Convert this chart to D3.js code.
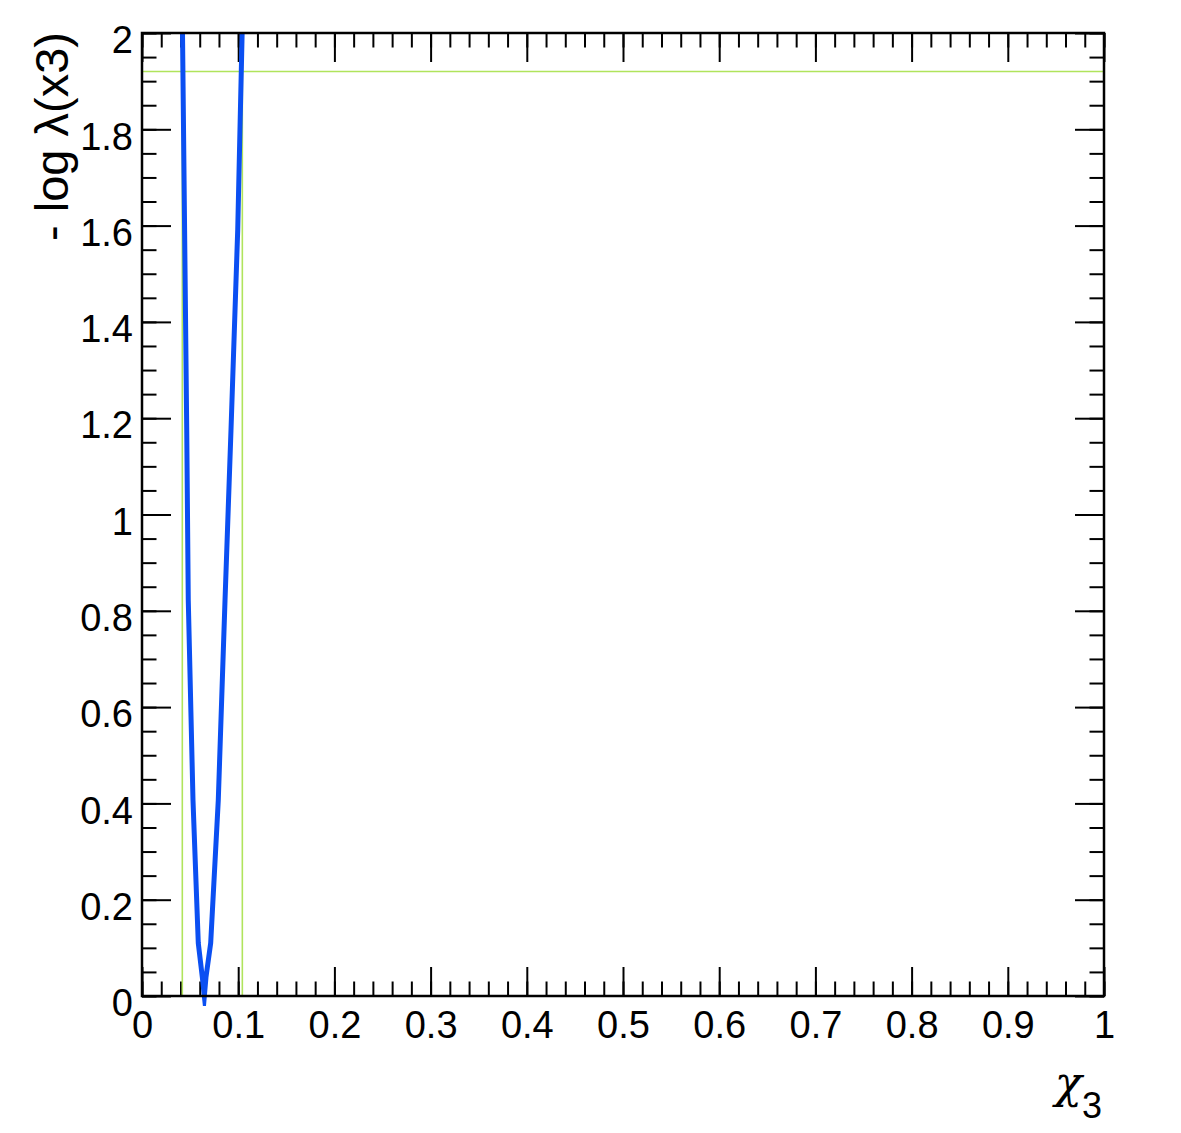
<!DOCTYPE html>
<html>
<head>
<meta charset="utf-8">
<script src="https://cdn.jsdelivr.net/npm/d3@7"></script>
<style>
  body { margin: 0; background: #fff; }
  svg { display: block; }
</style>
</head>
<body>
<div id="chart"></div>
<script>
// scan points of -log lambda vs chi_3
const scanX = [0.0400, 0.0421, 0.0465, 0.0481, 0.0530, 0.0585, 0.0627, 0.0648,
               0.0665, 0.0714, 0.0793, 0.0863, 0.0925, 0.0995, 0.1041, 0.1055];
const scanY = [2.40, 2.00, 1.175, 0.822, 0.407, 0.110, 0.039, 0.0,
               0.039, 0.110, 0.407, 0.822, 1.175, 1.591, 2.00, 2.30];

// 95% CL threshold and interval
const clLevel = 1.92;
const clBounds = [0.0419, 0.1043];

const xTickValues = [0, 0.1, 0.2, 0.3, 0.4, 0.5, 0.6, 0.7, 0.8, 0.9, 1];
const xTickLabels = ["0", "0.1", "0.2", "0.3", "0.4", "0.5", "0.6", "0.7", "0.8", "0.9", "1"];
const yTickValues = [0, 0.2, 0.4, 0.6, 0.8, 1, 1.2, 1.4, 1.6, 1.8, 2];
const yTickLabels = ["0", "0.2", "0.4", "0.6", "0.8", "1", "1.2", "1.4", "1.6", "1.8", "2"];

const width = 1181;
const height = 1133;
const margin = { top: 33, right: 77, bottom: 137, left: 142 };
const innerW = width - margin.left - margin.right;
const innerH = height - margin.top - margin.bottom;
const font = "'Liberation Sans', Arial, Helvetica, sans-serif";

const svg = d3.select("#chart").append("svg")
    .attr("width", width)
    .attr("height", height)
    .style("background", "white");

const g = svg.append("g")
    .attr("transform", `translate(${margin.left},${margin.top})`);

const x = d3.scaleLinear().domain([0, 1]).range([0, innerW]);
const y = d3.scaleLinear().domain([0, 2]).range([innerH, 0]);

// clip for the graph (lets the sharp tip poke slightly below the frame)
svg.append("defs").append("clipPath")
    .attr("id", "plotclip")
    .append("rect")
    .attr("x", 0).attr("y", 0)
    .attr("width", innerW).attr("height", innerH + 10);

const majorLen = 29, minorLen = 14.5;

function styleAxis(sel) {
    sel.select(".domain").remove();
    sel.selectAll("line").attr("stroke", "#000").attr("stroke-width", 2);
    sel.attr("font-family", font).attr("font-size", 38);
    sel.selectAll("text").attr("fill", "#000");
}

// bottom axis: minor ticks, then major ticks with labels
g.append("g")
    .attr("transform", `translate(0,${innerH})`)
    .call(d3.axisBottom(x).ticks(50).tickSize(-minorLen).tickFormat(""))
    .call(styleAxis);
g.append("g")
    .attr("transform", `translate(0,${innerH})`)
    .call(d3.axisBottom(x).tickValues(xTickValues).tickSize(-majorLen).tickPadding(15)
        .tickFormat((d, i) => xTickLabels[i]))
    .call(styleAxis);

// top axis (mirror ticks)
g.append("g")
    .call(d3.axisTop(x).ticks(50).tickSize(-minorLen).tickFormat(""))
    .call(styleAxis);
g.append("g")
    .call(d3.axisTop(x).tickValues(xTickValues).tickSize(-majorLen).tickFormat(""))
    .call(styleAxis);

// left axis
g.append("g")
    .call(d3.axisLeft(y).ticks(40).tickSize(-minorLen).tickFormat(""))
    .call(styleAxis);
const yAxis = g.append("g")
    .call(d3.axisLeft(y).tickValues(yTickValues).tickSize(-majorLen).tickPadding(9)
        .tickFormat((d, i) => yTickLabels[i]))
    .call(styleAxis);
yAxis.selectAll("text").attr("dy", "0.52em");

// right axis (mirror ticks)
g.append("g")
    .attr("transform", `translate(${innerW},0)`)
    .call(d3.axisRight(y).ticks(40).tickSize(-minorLen).tickFormat(""))
    .call(styleAxis);
g.append("g")
    .attr("transform", `translate(${innerW},0)`)
    .call(d3.axisRight(y).tickValues(yTickValues).tickSize(-majorLen).tickFormat(""))
    .call(styleAxis);

// CL lines
const green = "#b0e45c";
g.append("line")
    .attr("x1", 0).attr("x2", innerW)
    .attr("y1", y(clLevel)).attr("y2", y(clLevel))
    .attr("stroke", green).attr("stroke-width", 1.6);
clBounds.forEach(b => {
    g.append("line")
        .attr("x1", x(b)).attr("x2", x(b))
        .attr("y1", 0).attr("y2", innerH)
        .attr("stroke", green).attr("stroke-width", 1.6);
});

// scan curve
const pts = scanX.map((v, i) => [v, scanY[i]]);
g.append("path")
    .datum(pts)
    .attr("clip-path", "url(#plotclip)")
    .attr("fill", "none")
    .attr("stroke", "#0b4ff2")
    .attr("stroke-width", 5)
    .attr("stroke-linejoin", "miter")
    .attr("stroke-miterlimit", 20)
    .attr("d", d3.line().x(d => x(d[0])).y(d => y(d[1])));

// frame
g.append("rect")
    .attr("x", 0).attr("y", 0)
    .attr("width", innerW).attr("height", innerH)
    .attr("fill", "none")
    .attr("stroke", "#000")
    .attr("stroke-width", 2.5);

// axis titles
svg.append("text")
    .attr("transform", `translate(68,32) rotate(-90)`)
    .attr("text-anchor", "end")
    .attr("font-family", font)
    .attr("font-size", 47)
    .attr("fill", "#000")
    .text("- log \u03bb(x3)");

const xt = svg.append("text")
    .attr("x", margin.left + innerW - 2)
    .attr("y", 1098)
    .attr("text-anchor", "end")
    .attr("font-family", font)
    .attr("font-size", 45)
    .attr("fill", "#000");
xt.append("tspan").attr("font-family", "'DejaVu Serif', serif").attr("font-style", "italic").text("\u03c7");
xt.append("tspan").attr("font-size", 36).attr("dy", 20).text("3");
</script>
</body>
</html>
